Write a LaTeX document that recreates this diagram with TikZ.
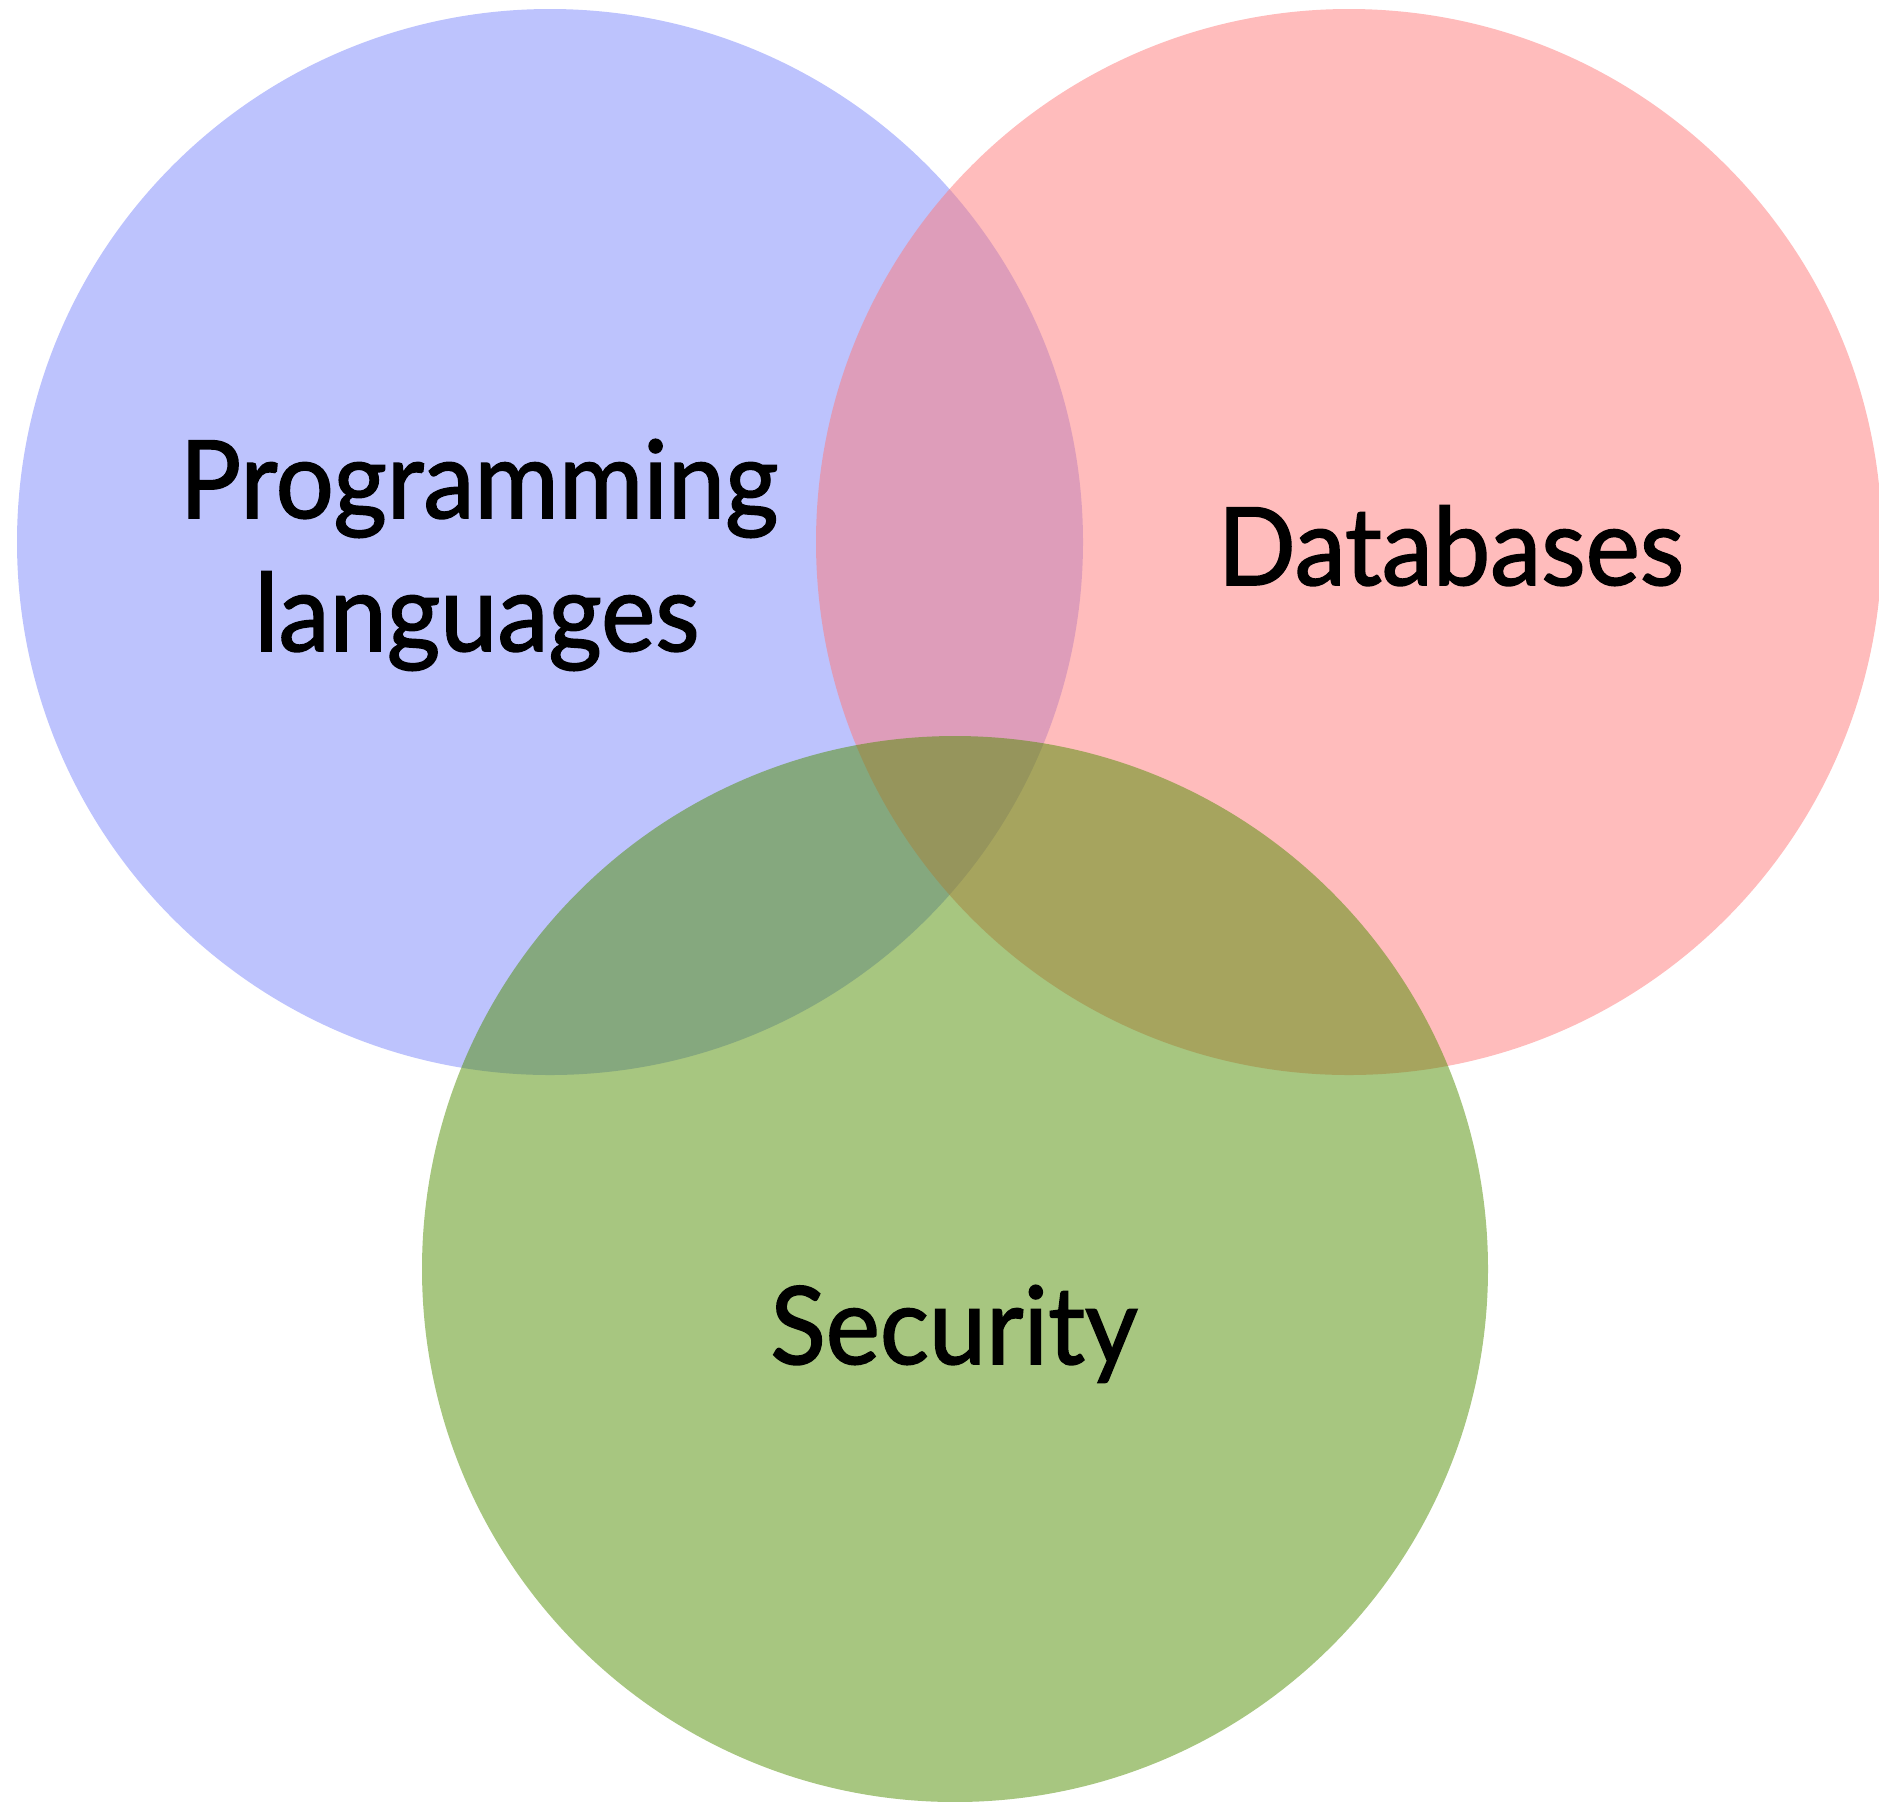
\documentclass[tikz,border=0pt]{standalone}
\usepackage{fontspec}
\newfontfamily\setnamefont{Lato}[FakeBold=1.5]
\definecolor{setblue}{RGB}{123,135,251}
\definecolor{setred}{RGB}{255,121,121}
\definecolor{setgreen}{RGB}{79,141,1}
\newcommand{\setname}[1]{\scalebox{0.95}[1]{#1}}
\tikzset{
  setdisc/.style={fill=#1, fill opacity=0.5, draw=none},
  setlabel/.style={anchor=base, inner sep=0pt, text=black,
    font=\setnamefont\fontsize{54pt}{66pt}\selectfont}
}
\begin{document}
\begin{tikzpicture}[x=0.5pt, y=-0.5pt]
  \useasboundingbox (0,0) rectangle (1879,1801);
  \clip (0,0) rectangle (1879,1801);
  % three overlapping sets
  \fill[setdisc=setblue]  (550,542)  circle[radius=266.5pt];
  \fill[setdisc=setred]   (1349,542) circle[radius=266.5pt];
  \fill[setdisc=setgreen] (955,1269) circle[radius=266.5pt];
  % set names
  \node[setlabel] (prog) at (479,518) {\setname{Programming}};
  \node[setlabel] (lang) at (477,651) {\setname{languages}};
  \node[setlabel] (db)   at (1451,585) {\setname{Databases}};
  \node[setlabel] (sec)  at (954,1364) {\setname{Security}};
\end{tikzpicture}
\end{document}
